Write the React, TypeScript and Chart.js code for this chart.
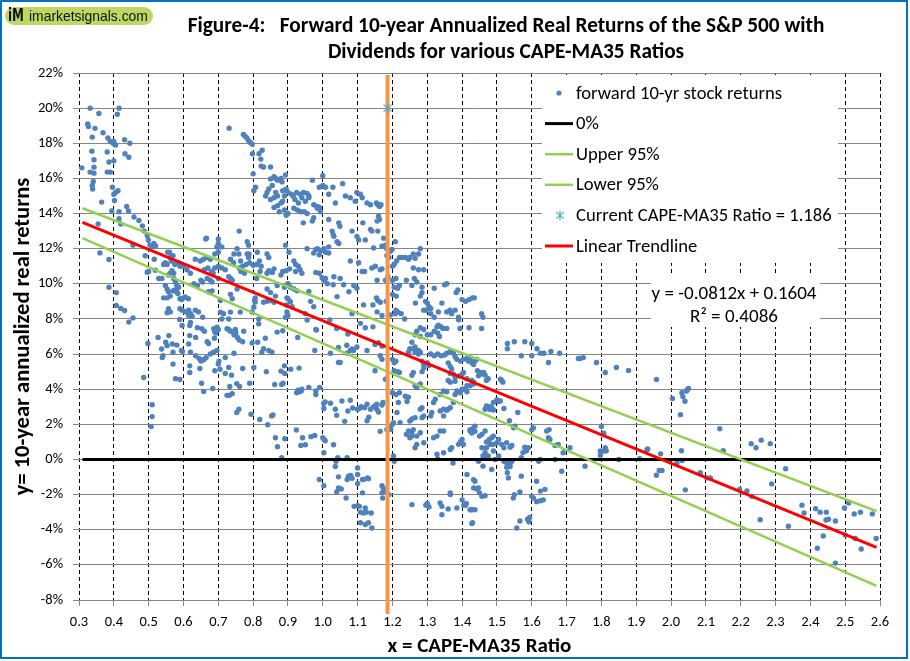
import React, { useEffect, useRef } from "react";
import { Chart, registerables } from "chart.js";

Chart.register(...registerables);

type Pt = [number, number];

// ---- scatter values: [CAPE-MA35 ratio, forward 10-yr real return %] ----
const returnsCape03to05: Pt[] = [
  [0.308,16.6],[0.332,20.0],[0.325,19.1],[0.327,18.95],[0.346,18.85],[0.357,19.7],[0.369,18.6],[0.383,18.3],
  [0.39,18.1],[0.398,18.0],[0.40,18.1],[0.40,17.0],[0.405,17.9],[0.41,19.65],[0.415,20.0],[0.431,18.2],
  [0.446,18.0],[0.443,17.2],[0.432,17.4],[0.338,18.35],[0.337,17.55],[0.343,17.06],[0.343,16.64],[0.332,16.36],
  [0.343,16.3],[0.341,15.83],[0.338,15.6],[0.339,15.4],[0.365,14.65],[0.355,13.4],[0.36,11.76],[0.386,11.38],
  [0.386,9.8],[0.407,9.5],[0.407,8.77],[0.42,8.6],[0.431,8.48],[0.443,7.82],[0.455,8.06],[0.381,17.5],
  [0.386,16.93],[0.381,16.36],[0.39,16.36],[0.396,15.5],[0.40,15.1],[0.405,15.2],[0.412,15.3],[0.402,14.74],
  [0.394,14.14],[0.415,14.1],[0.415,13.7],[0.42,13.4],[0.437,14.4],[0.442,14.14],[0.455,12.2],[0.458,13.8],
  [0.472,13.6],[0.482,13.3],[0.487,13.0],[0.496,12.75],[0.499,12.5],[0.496,10.66],[0.504,12.2],[0.51,12.1],
];

const returnsCape05to09Upper: Pt[] = [
  [0.515,12.3],[0.52,12.15],[0.49,11.6],[0.50,10.7],[0.516,11.4],[0.519,10.77],[0.529,10.3],[0.538,10.3],
  [0.543,11.1],[0.548,11.2],[0.553,11.1],[0.555,11.8],[0.56,11.8],[0.562,11.5],[0.565,11.3],[0.57,11.6],
  [0.575,11.1],[0.557,10.5],[0.562,10.6],[0.567,10.75],[0.572,10.6],[0.548,9.9],[0.553,9.7],[0.557,9.55],
  [0.543,9.2],[0.553,9.2],[0.562,9.3],[0.572,10.3],[0.577,10.1],[0.581,9.9],[0.586,9.8],[0.57,9.6],
  [0.575,9.65],[0.58,9.55],[0.584,9.45],[0.59,9.15],[0.595,9.1],[0.60,9.2],[0.605,9.25],[0.614,9.15],
  [0.557,8.58],[0.562,8.4],[0.553,8.35],[0.59,8.58],[0.596,8.5],[0.589,7.97],[0.605,8.4],[0.615,8.5],
  [0.62,8.3],[0.625,8.15],[0.634,8.5],[0.643,8.4],[0.615,8.2],[0.62,7.8],[0.596,7.63],[0.618,7.63],
  [0.653,7.44],[0.687,7.44],[0.696,7.53],[0.69,7.25],[0.725,7.44],[0.735,7.3],[0.73,8.0],[0.735,8.39],
  [0.706,8.39],[0.71,8.0],[0.715,8.3],[0.763,8.39],[0.797,8.4],[0.802,8.67],[0.806,8.96],[0.806,9.2],
  [0.816,7.72],[0.869,7.25],[0.897,8.4],[0.90,8.2],[0.893,8.1],[0.896,8.8],[0.897,9.2],[0.90,9.15],
  [0.89,9.8],[0.90,10.0],[0.88,10.5],[0.885,10.7],[0.895,10.75],[0.905,10.85],[0.783,12.4],[0.787,12.2],
  [0.754,12.0],[0.759,11.7],[0.783,11.7],[0.787,11.5],[0.735,11.4],[0.744,11.2],[0.77,11.0],[0.78,11.1],
  [0.79,11.2],[0.80,11.05],[0.81,11.1],[0.818,11.3],[0.81,10.3],[0.82,10.7],[0.823,11.0],[0.84,10.6],
  [0.845,10.75],[0.855,10.65],[0.86,10.85],[0.84,9.7],[0.85,9.5],[0.864,9.3],[0.869,9.9],[0.83,8.95],
  [0.84,9.0],[0.85,9.05],[0.86,8.95],[0.804,9.05],[0.816,8.0],[0.634,11.4],[0.648,11.3],[0.657,11.4],
  [0.667,11.5],[0.677,11.4],[0.66,10.8],[0.67,10.9],[0.68,10.7],[0.685,10.6],[0.69,10.9],[0.70,11.0],
  [0.71,10.9],[0.72,10.8],[0.696,12.1],[0.70,12.3],[0.71,12.1],[0.666,12.6],[0.69,11.7],[0.70,11.8],
  [0.668,10.3],[0.677,10.2],[0.682,10.1],[0.70,10.3],[0.63,10.0],[0.64,9.9],[0.65,10.2],[0.655,10.1],
  [0.60,11.0],[0.61,10.8],[0.62,10.6],[0.586,11.2],[0.59,11.0],[0.672,9.55],[0.677,9.5],[0.682,9.6],
  [0.706,9.05],[0.735,9.4],[0.74,9.15],[0.754,9.7],[0.73,10.4],[0.735,10.3],[0.74,10.2],[0.76,10.9],
  [0.765,10.7],[0.775,10.6],[0.749,7.4],[0.773,7.3],[0.655,8.1],[0.64,7.5],[0.745,11.7],[0.764,11.3],
  [0.788,11.7],[0.812,11.8],[0.84,11.7],[0.845,11.5],[0.893,12.2],[0.903,11.8],
];

const returnsCape05to11Lower: Pt[] = [
  [0.486,4.67],[0.498,6.6],[0.51,3.12],[0.51,2.44],[0.507,1.87],[0.527,6.95],[0.537,6.29],[0.541,5.9],
  [0.539,5.8],[0.549,6.67],[0.553,6.48],[0.558,7.05],[0.568,6.57],[0.57,6.1],[0.581,6.51],[0.57,5.43],
  [0.577,4.6],[0.59,4.55],[0.594,6.2],[0.597,6.15],[0.615,6.57],[0.618,7.05],[0.62,6.1],[0.618,5.33],
  [0.618,4.95],[0.635,6.95],[0.635,5.9],[0.645,5.75],[0.65,5.6],[0.655,5.65],[0.66,5.7],[0.665,5.8],
  [0.647,5.18],[0.652,4.34],[0.658,3.87],[0.66,7.3],[0.668,6.7],[0.672,6.6],[0.677,6.0],[0.686,6.1],
  [0.689,6.9],[0.693,7.2],[0.696,6.2],[0.69,5.05],[0.70,5.43],[0.702,5.6],[0.684,4.04],[0.70,7.4],
  [0.73,7.4],[0.745,7.1],[0.75,7.2],[0.755,6.95],[0.76,6.8],[0.77,6.7],[0.72,5.8],[0.73,5.24],
  [0.705,5.14],[0.72,4.9],[0.738,4.8],[0.745,6.05],[0.725,3.65],[0.732,3.65],[0.74,3.75],[0.733,4.15],
  [0.753,4.32],[0.761,4.15],[0.753,2.67],[0.759,2.86],[0.77,5.18],[0.79,4.34],[0.794,2.57],[0.797,6.63],
  [0.813,6.67],[0.802,5.24],[0.819,2.28],[0.825,6.1],[0.83,6.3],[0.835,6.9],[0.845,6.2],[0.854,6.1],
  [0.838,5.0],[0.842,1.98],[0.853,2.48],[0.857,2.53],[0.862,4.27],[0.864,1.24],[0.87,0.72],[0.88,5.03],
  [0.882,4.27],[0.886,4.34],[0.89,5.33],[0.891,4.9],[0.882,0.1],[0.891,1.18],[0.908,5.14],[0.885,7.33],
  [0.924,1.68],[0.928,6.95],[0.932,5.2],[0.925,3.8],[0.929,3.95],[0.933,3.85],[0.938,3.9],[0.94,4.0],
  [0.937,0.8],[0.95,0.84],[0.942,1.24],[0.96,4.1],[0.966,1.3],[0.977,1.37],[0.977,6.2],[0.98,3.9],
  [0.98,3.7],[0.991,4.1],[0.98,7.4],[1.003,3.2],[1.003,2.9],[1.007,3.28],[1.0,1.24],[1.004,1.14],
  [1.007,1.06],[1.003,0.38],[0.99,-1.14],[1.003,-1.49],[1.022,3.2],[1.022,6.05],[1.031,0.84],[1.036,2.86],
  [1.04,2.51],[1.038,-0.1],[1.036,-0.4],[1.043,0.1],[1.045,5.52],[1.045,6.38],[1.07,6.05],[1.072,7.14],
  [1.055,3.33],[1.079,3.37],[1.086,2.93],[1.063,2.17],[1.072,2.76],[1.045,-0.99],[1.074,-0.95],[1.08,-0.91],
  [1.084,-1.07],[1.04,-1.85],[1.045,-1.62],[1.053,-1.68],[1.067,-2.19],[1.07,-1.14],[1.09,-2.67],[1.084,6.29],
  [1.088,6.2],
];

const returnsCape07to09High: Pt[] = [
  [0.731,18.86],[0.772,18.5],[0.777,18.4],[0.782,18.3],[0.787,18.15],[0.792,18.05],[0.797,17.95],[0.798,17.4],
  [0.817,17.4],[0.822,17.1],[0.823,16.7],[0.826,17.6],[0.83,16.65],[0.85,16.65],[0.85,15.97],[0.86,16.1],
  [0.865,16.0],[0.87,15.9],[0.88,16.0],[0.845,15.4],[0.84,15.2],[0.85,14.8],[0.86,14.9],[0.87,15.0],
  [0.87,14.45],[0.86,14.35],[0.88,14.6],[0.885,14.7],[0.89,15.0],[0.895,15.4],[0.90,15.2],[0.883,15.8],
  [0.893,16.2],[0.836,15.0],[0.802,15.3],[0.80,16.26],[0.807,15.5],[0.90,14.0],[0.76,13.0],[0.70,12.55],
  [0.664,12.55],[0.89,14.2],[0.875,14.1],[0.895,13.9],[0.885,15.3],[0.865,15.2],[0.855,15.6],
];

const returnsCape09to17Upper: Pt[] = [
  [0.97,15.9],[1.0,16.15],[0.91,15.1],[0.915,15.0],[0.925,15.2],[0.935,15.1],[0.945,15.2],[0.955,15.15],
  [0.96,15.0],[0.917,14.3],[0.927,14.2],[0.937,14.1],[0.947,14.1],[0.955,14.0],[0.92,14.8],[0.93,14.6],
  [0.94,14.9],[0.95,14.7],[0.96,14.9],[0.974,14.5],[0.984,14.4],[0.99,14.35],[0.944,13.47],[0.97,13.57],
  [0.974,13.76],[0.984,14.3],[0.993,14.1],[0.99,15.5],[1.0,15.6],[1.008,15.5],[1.017,15.1],[1.029,15.5],
  [1.036,14.6],[1.057,15.7],[1.065,15.0],[1.079,14.9],[1.093,14.7],[1.098,15.2],[1.108,15.1],[1.113,14.9],
  [1.127,14.6],[1.137,14.5],[1.154,14.6],[1.158,14.5],[1.163,14.4],[1.167,14.5],[1.163,13.66],[1.16,13.85],
  [1.156,13.57],[1.017,13.66],[1.027,13.0],[1.03,12.8],[1.032,12.7],[1.041,12.4],[1.046,12.3],[1.046,13.47],
  [1.049,13.28],[1.017,12.1],[0.98,11.95],[0.985,12.0],[0.995,11.9],[1.003,12.0],[1.008,11.8],[1.017,11.75],
  [0.955,12.0],[0.974,11.75],[0.99,11.65],[1.084,13.0],[1.098,12.7],[1.103,12.5],[1.115,13.47],[1.122,12.5],
  [1.137,13.1],[1.141,13.0],[1.158,13.0],[1.146,12.04],[1.17,12.14],[1.175,12.6],[1.18,12.2],[1.184,12.0],
  [1.208,12.4],[1.199,11.95],[1.194,11.85],[1.184,11.6],[1.19,11.5],[0.917,11.3],[0.922,11.1],[0.93,11.0],
  [0.935,10.8],[0.94,10.6],[0.922,10.7],[0.98,10.65],[0.99,10.6],[0.998,10.35],[1.003,10.2],[1.008,10.3],
  [1.013,10.0],[1.032,10.4],[1.05,10.3],[1.03,9.95],[1.06,9.95],[1.079,11.3],[1.103,11.2],[1.113,10.7],
  [1.089,9.9],[1.098,9.75],[1.075,9.55],[1.041,9.27],[0.96,9.56],[0.965,9.0],[0.974,8.7],[0.907,9.8],
  [0.917,9.7],[0.926,9.6],[0.907,8.98],[0.912,8.7],[0.95,8.3],[0.955,7.94],[0.982,7.37],[1.02,7.94],
  [1.04,7.46],[1.084,8.3],[1.117,8.8],[1.144,8.8],[1.154,9.2],[1.158,9.05],[1.165,8.95],[1.144,7.55],
  [1.156,8.4],[1.17,8.2],[1.182,9.0],[1.12,10.7],[1.141,10.9],[1.151,11.0],[1.165,10.8],[1.17,10.85],
  [1.156,10.2],[1.18,10.2],[1.187,10.4],[1.2,11.0],[1.205,11.1],[1.212,11.3],[1.22,11.5],[1.228,11.5],
  [1.237,11.5],[1.246,11.4],[1.25,11.5],[1.26,11.7],[1.265,11.45],[1.275,11.7],[1.28,12.0],[1.26,10.9],
  [1.275,10.8],[1.29,10.8],[1.2,10.2],[1.21,10.3],[1.22,9.9],[1.215,9.75],[1.2,9.4],[1.205,9.8],
  [1.211,9.3],[1.21,8.5],[1.215,8.4],[1.225,8.3],[1.235,8.0],[1.24,10.2],[1.256,9.9],[1.263,10.3],
  [1.27,10.1],[1.285,9.8],[1.285,9.5],[1.266,8.9],[1.28,9.3],[1.295,9.0],[1.30,8.9],[1.305,8.7],
  [1.31,8.6],[1.29,8.5],[1.297,8.5],[1.31,8.3],[1.32,8.1],[1.332,8.4],[1.342,8.9],[1.35,9.95],
  [1.32,9.75],[1.34,7.55],[1.345,7.46],[1.356,8.4],[1.365,8.5],[1.37,8.3],[1.38,8.5],[1.39,8.1],
  [1.39,7.95],[1.356,10.0],[1.383,9.5],[1.388,9.65],[1.40,9.1],[1.41,9.0],[1.42,9.1],[1.43,9.2],
  [1.435,9.2],[1.456,8.3],[1.46,8.1],[1.28,7.5],[1.328,7.55],[1.332,7.65],[1.356,7.46],[1.394,7.46],
  [1.42,7.5],[1.456,7.46],[1.194,8.23],[1.208,8.3],[1.108,7.75],[1.122,7.5],
];

const returnsCape10to18Lower: Pt[] = [
  [1.069,6.5],[1.098,6.4],[1.079,6.2],[1.05,5.52],[1.127,6.2],[1.15,6.55],[1.16,6.65],[1.17,6.45],
  [1.18,4.57],[1.165,5.9],[1.17,5.7],[1.15,5.05],[1.2,5.7],[1.205,5.5],[1.21,5.6],[1.205,5.05],
  [1.215,5.0],[1.22,4.95],[1.2,3.8],[1.21,3.7],[1.22,3.8],[1.237,3.6],[1.242,3.3],[1.246,3.55],
  [1.256,4.8],[1.26,4.95],[1.265,4.2],[1.27,4.1],[1.28,4.3],[1.285,5.0],[1.29,5.2],[1.265,7.1],
  [1.27,7.3],[1.28,7.0],[1.29,7.4],[1.3,7.1],[1.26,6.3],[1.265,6.1],[1.275,6.2],[1.28,6.1],
  [1.285,5.6],[1.29,5.4],[1.3,5.5],[1.305,5.35],[1.31,6.0],[1.32,5.9],[1.33,6.0],[1.34,5.9],
  [1.35,5.95],[1.31,7.1],[1.32,7.3],[1.33,7.2],[1.335,7.0],[1.356,6.05],[1.366,6.15],[1.375,6.05],
  [1.38,5.85],[1.36,5.5],[1.366,5.3],[1.37,5.15],[1.385,5.7],[1.395,5.6],[1.404,5.7],[1.414,5.75],
  [1.418,5.6],[1.423,5.7],[1.428,5.5],[1.433,5.4],[1.437,5.6],[1.442,5.7],[1.366,4.9],[1.375,4.85],
  [1.38,4.7],[1.39,4.75],[1.4,4.85],[1.404,4.95],[1.36,4.5],[1.366,4.4],[1.38,4.45],[1.414,4.6],
  [1.428,4.5],[1.433,4.3],[1.404,4.0],[1.414,3.85],[1.444,5.05],[1.452,4.85],[1.462,4.95],[1.466,4.8],
  [1.47,4.5],[1.475,4.6],[1.514,4.5],[1.517,4.4],[1.5,3.4],[1.505,3.3],[1.47,2.95],[1.48,2.85],
  [1.49,2.82],[1.485,2.95],[1.52,2.9],[1.56,2.67],[1.53,6.6],[1.55,6.7],[1.58,6.7],[1.6,6.6],
  [1.53,6.3],[1.57,5.9],[1.6,5.9],[1.615,6.3],[1.625,6.05],[1.635,6.05],[1.655,6.15],[1.68,6.05],
  [1.648,5.52],[1.734,5.75],[1.739,5.75],[1.748,5.8],[1.786,5.52],[1.51,4.57],[1.536,2.2],[1.548,1.8],
  [1.552,1.9],[1.6,1.7],[1.605,1.8],[1.528,0.95],[1.538,0.7],[1.543,0.8],[1.57,0.1],[1.575,0.4],
  [1.58,0.7],[1.585,0.5],[1.59,0.67],[1.514,0.85],[1.52,0.67],[1.643,1.62],[1.65,1.7],[1.648,1.24],
  [1.652,1.14],[1.667,0.8],[1.676,0.85],[1.69,0.38],[1.71,0.67],[1.667,0.0],[1.686,-0.67],[1.753,-0.38],
  [1.62,-0.1],[1.624,0.0],[1.614,-1.24],[1.625,-1.8],[1.638,-1.7],[1.6,-2.1],[1.605,-2.2],[1.614,-2.4],
  [1.625,-2.35],[1.633,-2.3],[1.588,-3.4],[1.592,-3.55],[1.594,-3.3],[1.566,-3.5],[1.557,-3.9],[1.547,-2.2],
  [1.55,-2.0],[1.566,-1.85],[1.57,-0.95],[1.52,-0.1],[1.528,-0.2],[1.538,-0.2],[1.543,-0.1],[1.53,-0.76],
  [1.533,-1.05],[1.538,-0.4],[1.528,-0.45],[1.505,0.2],[1.49,0.48],[1.475,0.2],[1.47,0.2],[1.46,0.2],
  [1.466,0.38],[1.485,0.86],[1.48,0.86],[1.49,0.86],[1.47,0.67],[1.457,0.67],[1.505,1.14],[1.5,0.95],
  [1.485,1.24],[1.49,1.33],[1.457,1.43],[1.466,1.62],[1.428,1.5],[1.437,1.6],[1.423,1.62],[1.404,0.86],
  [1.447,-0.1],[1.46,-0.38],[1.485,-0.57],[1.495,0.0],[1.414,-0.86],[1.433,-1.15],[1.437,-1.24],[1.433,-1.62],
  [1.442,-1.68],[1.447,-1.62],[1.45,-1.9],[1.457,-2.1],[1.466,-2.06],[1.412,-2.5],[1.41,-2.6],[1.4,-2.3],
  [1.405,-2.6],[1.423,-2.86],[1.428,-2.86],[1.437,-2.86],[1.43,-3.6],[1.428,-3.65],[1.366,-2.0],[1.342,-2.67],
  [1.342,-3.14],[1.337,-2.48],[1.36,-2.82],[1.385,-2.76],[1.3,-2.5],[1.296,-2.6],[1.305,-2.7],[1.256,-2.57],
  [1.366,-1.9],[1.328,0.3],[1.33,0.05],[1.347,0.38],[1.374,-0.2],[1.203,0.2],[1.205,-0.1],[1.07,0.1],
  [1.1,-0.48],[1.1,-0.86],[1.1,-1.37],[1.114,-1.14],[1.117,-1.14],[1.128,-1.05],[1.131,-1.1],[1.114,-1.9],
  [1.1,-2.63],[1.105,-2.67],[1.108,-3.0],[1.117,-3.05],[1.122,-2.76],[1.125,-3.0],[1.108,-3.6],[1.122,-3.7],
  [1.131,-3.6],[1.141,-3.9],[1.139,-3.05],[1.17,-1.5],[1.174,-1.65],[1.17,-1.9],[1.172,-2.2],[1.18,-1.8],
  [1.184,-1.9],[1.19,-2.0],[1.256,6.67],[1.265,6.4],[1.275,6.0],[1.246,6.1],[1.25,6.3],[1.195,1.9],
  [1.2,2.0],[1.203,2.1],[1.195,1.7],[1.165,1.6],[1.184,1.7],[1.127,2.2],[1.132,2.4],[1.155,2.86],
  [1.16,2.7],[1.146,3.0],[1.15,3.05],[1.1,2.86],[1.105,2.9],[1.11,3.0],[1.12,2.95],[1.127,3.14],
  [1.137,2.86],[1.155,3.14],[1.17,3.1],[1.173,3.24],[1.217,3.24],[1.213,2.67],[1.222,2.1],[1.24,1.43],
  [1.246,1.62],[1.256,1.5],[1.26,1.7],[1.27,1.33],[1.28,1.52],[1.265,0.67],[1.27,0.86],[1.29,0.95],
  [1.25,1.24],[1.256,1.33],[1.285,2.38],[1.29,2.48],[1.25,2.19],[1.256,2.3],[1.265,2.38],[1.28,2.86],
  [1.285,2.95],[1.31,2.48],[1.313,2.67],[1.347,2.48],[1.337,2.76],[1.347,2.86],[1.356,2.8],[1.36,2.86],
  [1.366,2.95],[1.318,3.24],[1.323,3.43],[1.337,3.7],[1.347,3.9],[1.356,3.85],[1.375,3.24],[1.38,3.7],
  [1.385,3.9],[1.395,3.8],[1.4,4.0],[1.41,4.0],[1.414,4.2],[1.423,4.2],[1.433,4.4],[1.447,4.76],
  [1.452,4.95],[1.466,2.86],[1.47,3.05],[1.48,3.0],[1.485,2.9],[1.49,3.24],[1.51,3.33],[1.423,1.7],
  [1.433,1.8],[1.437,1.9],[1.45,1.33],[1.47,1.0],[1.478,1.14],[1.337,1.62],[1.347,1.62],[1.318,1.24],
  [1.328,1.33],[1.366,0.57],[1.37,0.67],[1.39,0.86],[1.395,1.0],[1.4,1.14],
];

const returnsCape18to26: Pt[] = [
  [1.811,4.95],[1.843,5.24],[1.878,5.07],[1.958,4.55],[2.004,3.47],[2.027,2.55],[2.031,3.8],[2.034,3.58],
  [2.04,3.31],[2.044,3.9],[2.047,3.97],[2.05,4.04],[1.8,1.87],[1.807,1.49],[1.797,0.24],[1.797,0.48],
  [1.807,0.48],[1.811,0.67],[1.814,0.5],[1.85,0.0],[1.91,0.04],[1.933,0.6],[1.931,0.55],[1.97,0.32],
  [1.958,-0.9],[1.966,-0.63],[1.974,-0.63],[2.017,-0.2],[2.03,0.5],[2.032,-0.06],[2.041,-1.73],[2.084,-0.76],
  [2.103,-1.05],[2.113,-1.05],[2.14,1.75],[2.15,0.5],[2.197,-1.71],[2.218,-1.79],[2.232,-2.1],[2.23,0.9],
  [2.244,0.67],[2.259,1.1],[2.285,0.9],[2.256,-3.43],[2.289,-1.39],[2.329,-0.53],[2.337,-3.8],[2.376,-2.6],
  [2.382,-3.05],[2.415,-2.8],[2.428,-3.0],[2.446,-3.0],[2.42,-5.05],[2.437,-4.36],[2.445,-3.45],[2.452,-3.4],
  [2.472,-3.5],[2.472,-5.9],[2.498,-2.76],[2.51,-2.48],[2.5,-4.3],[2.526,-3.1],[2.544,-3.0],[2.529,-4.5],
  [2.546,-5.1],[2.578,-3.1],[2.589,-4.5],
];

// ---- line series ----
const zeroLine: Pt[] = [[0.31, 0], [2.6, 0]];
const upper95: Pt[] = [[0.31, 14.3], [2.59, -2.94]];
const lower95: Pt[] = [[0.31, 12.6], [2.59, -7.2]];
const trendLine: Pt[] = [[0.31, 13.5], [2.59, -5.0]];
const currentRatio = 1.186;
const currentPoint: Pt[] = [[1.186, 20]];

// ---- ticks & text ----
const xTickValues = [0.3, 0.4, 0.5, 0.6, 0.7, 0.8, 0.9, 1.0, 1.1, 1.2, 1.3, 1.4, 1.5, 1.6, 1.7, 1.8, 1.9, 2.0, 2.1, 2.2, 2.3, 2.4, 2.5, 2.6];
const yTickValues = [-8, -6, -4, -2, 0, 2, 4, 6, 8, 10, 12, 14, 16, 18, 20, 22];
const titleLines = [
  "Figure-4:   Forward 10-year Annualized Real Returns of the S&P 500 with",
  "Dividends for various CAPE-MA35 Ratios",
];
const legendLabels = [
  "forward 10-yr stock returns",
  "0%",
  "Upper 95%",
  "Lower 95%",
  "Current CAPE-MA35 Ratio = 1.186",
  "Linear Trendline",
];
const equationLines = ["y = -0.0812x + 0.1604", "R\u00B2 = 0.4086"];
const xAxisTitle = "x = CAPE-MA35 Ratio";
const yAxisTitle = "y= 10-year annualized real returns";
const logoMark = "iM";
const logoText = "imarketsignals.com";

const FONT = 'Carlito, Lato, "Noto Sans", sans-serif';
const LOGO_FONT = '"Liberation Sans", Arial, sans-serif';
const LOGO_MARK_FONT = '"Liberation Sans Narrow", "DejaVu Sans Condensed", "Liberation Sans", sans-serif';
const BLUE = "#4f81bd";
const GREEN = "#92d050";
const RED = "#ff0000";
const STAR = "#4bacc6";
const ORANGE = "#f79646";

function makeStarCanvas(): HTMLCanvasElement {
  const c = document.createElement("canvas");
  c.width = 12;
  c.height = 12;
  const g = c.getContext("2d")!;
  g.strokeStyle = STAR;
  g.lineWidth = 1.2;
  g.beginPath();
  g.moveTo(6, 1); g.lineTo(6, 11);
  g.moveTo(2, 2.5); g.lineTo(10, 9.5);
  g.moveTo(10, 2.5); g.lineTo(2, 9.5);
  g.stroke();
  return c;
}

function fitSize(ctx: CanvasRenderingContext2D, text: string, weight: string, target: number, base: number, family = FONT) {
  ctx.font = `${weight} ${base}px ${family}`;
  const w = ctx.measureText(text).width;
  return w > 0 ? Math.min(base * 1.25, (base * target) / w) : base;
}

const decorPlugin = {
  id: "decor",
  beforeDatasetsDraw(chart: any) {
    const ctx = chart.ctx as CanvasRenderingContext2D;
    ctx.save();
    ctx.fillStyle = "#ffffff";
    ctx.fillRect(542, 75, 296, 188);
    ctx.fillRect(651, 275, 169, 52);
    ctx.restore();
  },
  afterDatasetDraw(chart: any, args: any) {
    if (args.index !== 4) return;
    const ctx = chart.ctx as CanvasRenderingContext2D;
    const x = chart.scales.x.getPixelForValue(currentRatio);
    const { top, bottom } = chart.chartArea;
    ctx.save();
    ctx.strokeStyle = ORANGE;
    ctx.lineWidth = 4;
    ctx.beginPath();
    ctx.moveTo(x, top + 2);
    ctx.lineTo(x, bottom + 14);
    ctx.stroke();
    ctx.restore();
  },
  afterDraw(chart: any) {
    const ctx = chart.ctx as CanvasRenderingContext2D;
    ctx.save();

    // Legend
    const rows = [93, 123.6, 154.2, 184.8, 215.4, 246];
    const legendSize = fitSize(ctx, legendLabels[4], "normal", 256, 16);
    ctx.font = `normal ${legendSize}px ${FONT}`;
    ctx.textBaseline = "middle";
    ctx.textAlign = "left";
    ctx.fillStyle = "#000";
    legendLabels.forEach((t, i) => ctx.fillText(t, 576, rows[i] + 1));
    ctx.fillStyle = BLUE;
    ctx.beginPath();
    ctx.arc(559, rows[0], 2.6, 0, Math.PI * 2);
    ctx.fill();
    const line = (y: number, color: string, w: number) => {
      ctx.strokeStyle = color;
      ctx.lineWidth = w;
      ctx.beginPath();
      ctx.moveTo(545, y);
      ctx.lineTo(573, y);
      ctx.stroke();
    };
    line(rows[1], "#000", 3);
    line(rows[2], GREEN, 2.5);
    line(rows[3], GREEN, 2.5);
    line(rows[5], RED, 3);
    ctx.strokeStyle = STAR;
    ctx.lineWidth = 1.2;
    ctx.beginPath();
    const sx = 560, sy = rows[4];
    ctx.moveTo(sx, sy - 5); ctx.lineTo(sx, sy + 5);
    ctx.moveTo(sx - 4, sy - 3.5); ctx.lineTo(sx + 4, sy + 3.5);
    ctx.moveTo(sx + 4, sy - 3.5); ctx.lineTo(sx - 4, sy + 3.5);
    ctx.stroke();

    // Equation
    const eqSize = fitSize(ctx, equationLines[0], "normal", 165, 16);
    ctx.font = `normal ${eqSize}px ${FONT}`;
    ctx.fillStyle = "#000";
    ctx.textAlign = "center";
    ctx.fillText(equationLines[0], 734, 294);
    ctx.fillText(equationLines[1], 734, 317);

    // Title
    const tSize = fitSize(ctx, titleLines[0], "bold", 637, 19);
    ctx.font = `bold ${tSize}px ${FONT}`;
    ctx.fillText(titleLines[0], 506, 27);
    ctx.fillText(titleLines[1], 506, 53);

    // Logo
    ctx.fillStyle = "#bdd862";
    ctx.beginPath();
    const lx = 5, ly = 7, lw = 148, lh = 18, r = 9;
    ctx.moveTo(lx + r, ly);
    ctx.lineTo(lx + lw - r, ly);
    ctx.arc(lx + lw - r, ly + r, r, -Math.PI / 2, Math.PI / 2);
    ctx.lineTo(lx + r, ly + lh);
    ctx.arc(lx + r, ly + r, r, Math.PI / 2, (3 * Math.PI) / 2);
    ctx.closePath();
    ctx.fill();
    ctx.fillStyle = "#111";
    ctx.textAlign = "left";
    ctx.font = `bold 18px ${LOGO_MARK_FONT}`;
    const mw = ctx.measureText(logoMark).width;
    const mScale = Math.min(1, 16 / mw);
    ctx.save();
    ctx.translate(8, 16.5);
    ctx.scale(mScale, 1);
    ctx.fillText(logoMark, 0, 0);
    ctx.restore();
    const ls = fitSize(ctx, logoText, "normal", 119, 15, LOGO_FONT);
    ctx.font = `normal ${ls}px ${LOGO_FONT}`;
    ctx.fillText(logoText, 29, 17);

    // Frame
    ctx.strokeStyle = "#0070c0";
    ctx.lineWidth = 2;
    ctx.strokeRect(1, 1, 906, 657);
    ctx.restore();
  },
};

const toXY = (arr: Pt[]) => arr.map(([x, y]) => ({ x, y }));

export default function App() {
  const ref = useRef<HTMLCanvasElement>(null);
  useEffect(() => {
    const canvas = ref.current!;
    const mctx = document.createElement("canvas").getContext("2d")!;
    const xTitleSize = fitSize(mctx, xAxisTitle, "bold", 184, 18);
    const yTitleSize = fitSize(mctx, yAxisTitle, "bold", 337, 18);
    const scatter = [
      ...returnsCape03to05,
      ...returnsCape05to09Upper,
      ...returnsCape05to11Lower,
      ...returnsCape07to09High,
      ...returnsCape09to17Upper,
      ...returnsCape10to18Lower,
      ...returnsCape18to26,
    ];
    const starImg = makeStarCanvas();
    const chart = new Chart(canvas, {
      type: "scatter",
      data: {
        datasets: [
          { label: legendLabels[0], data: toXY(scatter), backgroundColor: BLUE, borderWidth: 0, pointRadius: 2.7, pointHoverRadius: 2.7, order: 10 },
          { label: legendLabels[1], data: toXY(zeroLine), showLine: true, borderColor: "#000", borderWidth: 3, pointRadius: 0, order: 9 },
          { label: legendLabels[2], data: toXY(upper95), showLine: true, borderColor: GREEN, borderWidth: 2.5, pointRadius: 0, order: 8 },
          { label: legendLabels[3], data: toXY(lower95), showLine: true, borderColor: GREEN, borderWidth: 2.5, pointRadius: 0, order: 7 },
          { label: legendLabels[5], data: toXY(trendLine), showLine: true, borderColor: RED, borderWidth: 3, pointRadius: 0, order: 6 },
          { label: legendLabels[4], data: toXY(currentPoint), pointStyle: starImg as any, pointRadius: 6, order: 1 },
        ],
      } as any,
      options: {
        animation: false,
        responsive: false,
        events: [],
        layout: { padding: { top: 73, right: 30, bottom: 0, left: 0 } },
        plugins: { legend: { display: false }, tooltip: { enabled: false }, title: { display: false } },
        scales: {
          x: {
            type: "linear",
            min: 0.3,
            max: 2.6,
            afterBuildTicks: (s: any) => { s.ticks = xTickValues.map((v) => ({ value: v })); },
            afterFit: (s: any) => { s.height = 61; },
            ticks: {
              callback: (v: any) => Number(v).toFixed(1),
              font: { family: FONT, size: 14.5 },
              color: "#000",
              padding: 8,
              maxRotation: 0,
              autoSkip: false,
            },
            grid: { color: "#000", lineWidth: 1, tickLength: 6, tickColor: "#868686" },
            border: { display: true, color: "#868686", width: 1, dash: [4, 3] },
            title: { display: true, text: xAxisTitle, font: { family: FONT, size: xTitleSize, weight: "bold" }, color: "#000", padding: { top: 0, bottom: 2 } },
          },
          y: {
            type: "linear",
            min: -8,
            max: 22,
            afterBuildTicks: (s: any) => { s.ticks = yTickValues.map((v) => ({ value: v })); },
            afterFit: (s: any) => { s.width = 79; },
            ticks: {
              callback: (v: any) => `${v}%`,
              font: { family: FONT, size: 14.5 },
              color: "#000",
              padding: 10,
            },
            grid: { color: "#868686", lineWidth: 1, tickLength: 6, tickColor: "#868686" },
            border: { display: false },
            title: { display: true, text: yAxisTitle, font: { family: FONT, size: yTitleSize, weight: "bold" }, color: "#000", padding: { top: 10, bottom: 0 } },
          },
        },
      } as any,
      plugins: [decorPlugin],
    });
    return () => chart.destroy();
  }, []);
  return (
    <div style={{ position: "absolute", left: 0, top: 0, width: 910, height: 661, background: "#fff" }}>
      <canvas ref={ref} width={910} height={661} style={{ display: "block" }} />
    </div>
  );
}
